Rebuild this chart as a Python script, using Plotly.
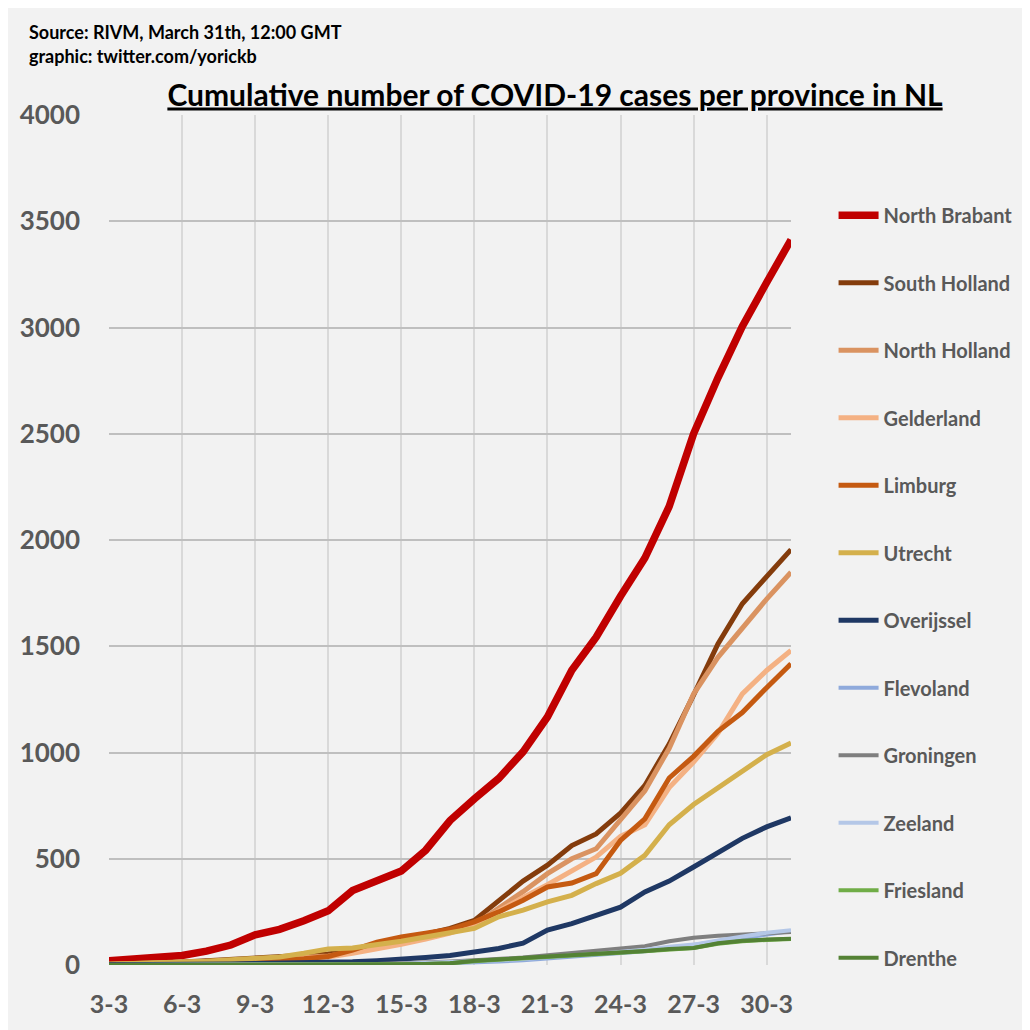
import plotly.graph_objects as go

days = ["%d-3" % d for d in range(3, 32)]
tick_labels = ["3-3", "6-3", "9-3", "12-3", "15-3", "18-3", "21-3", "24-3", "27-3", "30-3"]

north_brabant = [20, 27, 34, 45, 65, 94, 142, 168, 208, 255, 350, 398, 442, 540, 680, 782, 878, 1003, 1167, 1387, 1543, 1735, 1915, 2158, 2500, 2763, 3005, 3212, 3413]
south_holland = [5, 7, 10, 14, 20, 26, 33, 40, 45, 52, 68, 98, 122, 145, 172, 210, 300, 395, 470, 562, 617, 715, 845, 1040, 1270, 1511, 1700, 1828, 1955]
north_holland = [3, 5, 8, 12, 16, 20, 25, 30, 36, 42, 60, 85, 105, 128, 155, 190, 265, 345, 430, 500, 547, 685, 820, 1020, 1275, 1448, 1589, 1722, 1848]
gelderland = [2, 4, 6, 10, 14, 18, 22, 27, 32, 38, 55, 75, 98, 122, 150, 190, 255, 318, 378, 445, 508, 605, 660, 835, 955, 1090, 1276, 1386, 1480]
limburg = [2, 3, 5, 8, 12, 16, 20, 25, 30, 40, 70, 108, 132, 150, 168, 203, 250, 305, 367, 386, 430, 586, 688, 880, 982, 1100, 1188, 1305, 1418]
utrecht = [4, 6, 9, 14, 18, 24, 30, 38, 55, 75, 80, 95, 112, 132, 150, 172, 227, 258, 297, 328, 383, 432, 516, 660, 755, 835, 915, 990, 1045]
overijssel = [1, 1, 2, 3, 4, 5, 7, 8, 10, 12, 15, 20, 25, 35, 45, 62, 78, 103, 164, 195, 232, 272, 344, 395, 461, 527, 596, 650, 693]
flevoland = [0, 0, 0, 0, 0, 1, 1, 1, 2, 2, 2, 3, 3, 5, 8, 12, 16, 22, 30, 38, 45, 55, 65, 78, 95, 110, 125, 145, 160]
groningen = [0, 0, 0, 0, 1, 1, 1, 1, 2, 2, 3, 5, 8, 12, 16, 22, 28, 35, 46, 56, 68, 75, 88, 112, 128, 138, 144, 150, 155]
zeeland = [0, 0, 0, 0, 0, 1, 1, 1, 1, 2, 2, 4, 6, 9, 12, 16, 22, 28, 38, 45, 52, 60, 72, 86, 96, 115, 135, 152, 164]
friesland = [0, 0, 0, 0, 0, 1, 1, 1, 1, 2, 2, 2, 3, 5, 8, 18, 24, 30, 40, 46, 52, 58, 65, 74, 80, 100, 112, 118, 122]
drenthe = [0, 0, 0, 0, 0, 0, 1, 1, 1, 1, 2, 2, 3, 5, 8, 20, 26, 32, 42, 48, 54, 60, 66, 75, 80, 102, 114, 120, 124]

series = [
    ("North Brabant", north_brabant, "#C00000", 7.5),
    ("South Holland", south_holland, "#843C0C", 5),
    ("North Holland", north_holland, "#DA9361", 5),
    ("Gelderland", gelderland, "#F4B183", 5),
    ("Limburg", limburg, "#C55A11", 5),
    ("Utrecht", utrecht, "#D4B04C", 5),
    ("Overijssel", overijssel, "#1F3864", 5),
    ("Flevoland", flevoland, "#8FAADC", 4),
    ("Groningen", groningen, "#7F7F7F", 4),
    ("Zeeland", zeeland, "#B4C7E7", 4),
    ("Friesland", friesland, "#70AD47", 4),
    ("Drenthe", drenthe, "#548235", 4),
]

fig = go.Figure()
for name, vals, color, w in series:
    fig.add_trace(go.Scatter(x=days, y=vals, name=name, mode="lines", legendgroup=name,
                             line=dict(color=color, width=w)))

OFF = 8  # page body margin
W, H = 1030 - OFF, 1030 - OFF
# target screen positions of the plot area
L, R, T, B = 106 - OFF, 795 - OFF, 115 - OFF, 968 - OFF
pw, ph = R - L, B - T
def px(x):
    return (x - OFF - L) / pw
def py(y):
    return (B - (y - OFF)) / ph

FONT = "Lato"
fig.update_layout(
    width=W, height=H,
    margin=dict(l=L, r=W - R, t=T, b=H - B, pad=0),
    paper_bgcolor="#F2F2F2",
    plot_bgcolor="#F2F2F2",
    font=dict(family=FONT, color="#595959"),
    showlegend=True,
    legend=dict(x=px(838), y=py(196), xanchor="left", yanchor="top",
                bgcolor="rgba(0,0,0,0)", tracegroupgap=38.5,
                font=dict(family=FONT, size=20, color="#595959", weight="bold"),
                itemwidth=40),
    title=dict(text="<u>Cumulative number of COVID-19 cases per province in NL</u>",
               x=(555 - OFF) / W, xanchor="center", xref="container",
               y=1 - (95 - OFF) / H, yanchor="middle", yref="container",
               font=dict(family=FONT, size=30, color="black", weight="bold")),
    annotations=[
        dict(text="Source: RIVM, March 31th, 12:00 GMT", xref="paper", yref="paper",
             x=px(23), y=py(32), xanchor="left", yanchor="middle", showarrow=False,
             font=dict(family=FONT, size=18, color="black", weight="bold")),
        dict(text="graphic: twitter.com/yorickb", xref="paper", yref="paper",
             x=px(23), y=py(56), xanchor="left", yanchor="middle", showarrow=False,
             font=dict(family=FONT, size=18, color="black", weight="bold")),
    ],
)
fig.update_xaxes(type="category", range=[0, len(days) - 1], tickvals=tick_labels, ticktext=tick_labels,
                 showgrid=True, gridcolor="#D9D9D9", gridwidth=1.5, ticks="", showline=False,
                 zeroline=False, ticklabelstandoff=22,
                 tickfont=dict(family=FONT, size=25, color="#595959", weight="bold"))
fig.update_yaxes(range=[0, 4000], dtick=500, showgrid=True, gridcolor="#BFBFBF", gridwidth=1.5,
                 zeroline=False, ticks="", ticklabelstandoff=28, showline=False,
                 tickfont=dict(family=FONT, size=26, color="#595959", weight="bold"))

fig.write_html("out.html")
